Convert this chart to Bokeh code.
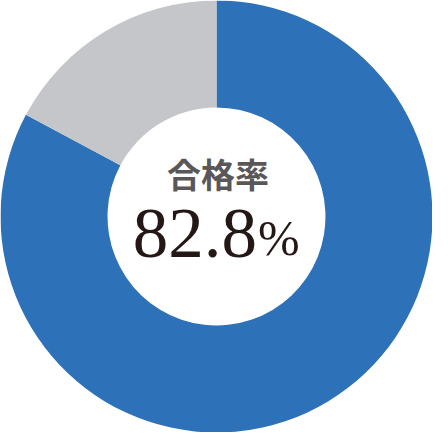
import numpy as np
from bokeh.plotting import figure
from bokeh.models import ColumnDataSource
from bokeh.core.properties import value
from bokeh.embed import file_html
from bokeh.resources import INLINE

categories = ["合格", "不合格"]
values = [82.8, 17.2]
colors = ["#2d71b8", "#c5c6ca"]
center_title = "合格率"
center_value = "82.8"
center_unit = "%"

vals = np.array(values, dtype=float)
frac = vals / vals.sum()
cum = np.concatenate([[0.0], np.cumsum(frac)])
start = np.pi / 2 - cum[:-1] * 2 * np.pi
end = np.pi / 2 - cum[1:] * 2 * np.pi

src = ColumnDataSource(dict(cat=categories, val=values, start=start, end=end, color=colors))

p = figure(width=432, height=432, x_range=(-224, 224), y_range=(-224, 224),
           output_backend="svg", toolbar_location=None, min_border=0)
p.axis.visible = False
p.grid.visible = False
p.outline_line_color = None
p.background_fill_color = "white"
p.border_fill_color = "white"

p.annular_wedge(x=0, y=0, inner_radius=113, outer_radius=224, start_angle="start",
                end_angle="end", direction="clock", color="color", line_color=None, source=src)

serif = value("Liberation Serif")
p.text(x=[1.5], y=[45], text=[center_title], text_font=value("Noto Sans CJK JP"),
       text_font_size="34px", text_font_style="bold", text_color="#595757",
       text_align="center", text_baseline="middle")
p.text(x=[42], y=[-18], text=[center_value], text_font=serif,
       text_font_size="71px", text_color="#231815", text_align="right", text_baseline="middle")
p.text(x=[43], y=[-22], text=[center_unit], text_font=serif,
       text_font_size="50px", text_color="#231815", text_align="left", text_baseline="middle")

open("out.html", "w").write(file_html(p, INLINE))
